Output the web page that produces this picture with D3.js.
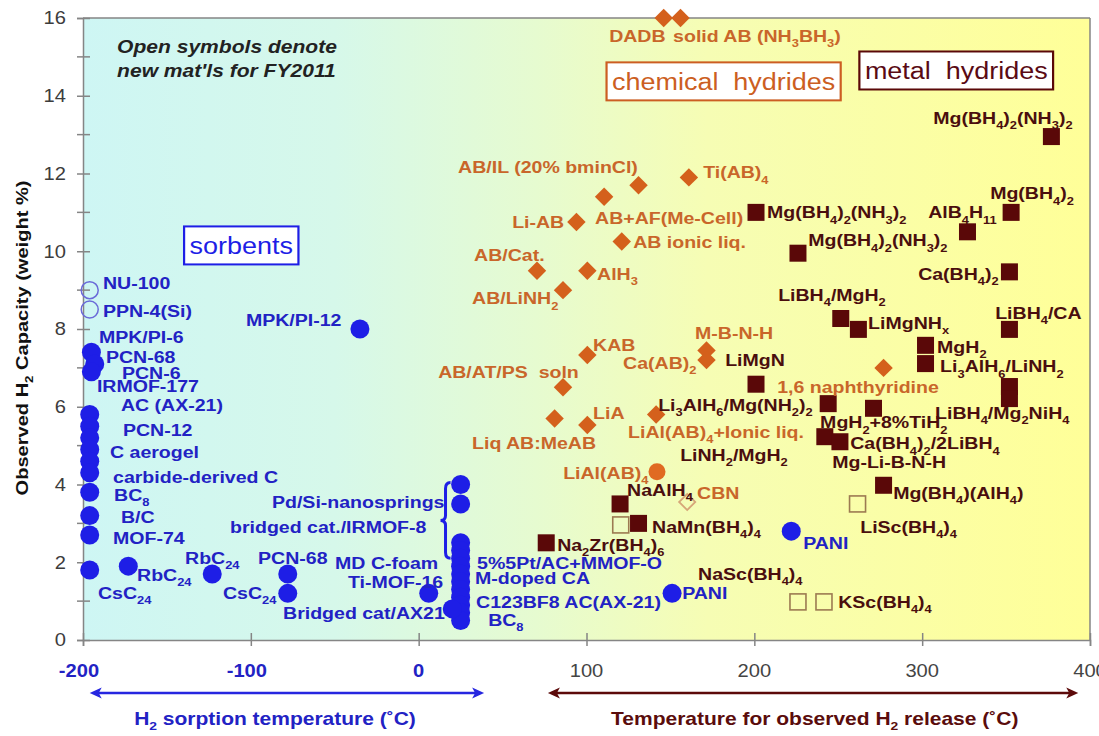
<!DOCTYPE html>
<html>
<head>
<meta charset="utf-8">
<script src="https://cdn.jsdelivr.net/npm/d3@7"></script>
<style>
  html, body { margin: 0; padding: 0; background: #fff; }
  svg { display: block; font-family: "Liberation Sans", Arial, sans-serif; }
</style>
</head>
<body>
<svg id="chart" width="1099" height="736"></svg>
<script>
// ---- Data: temperature (°C) vs. observed H2 capacity (wt %) ----
const xTicks = [-200, -100, 0, 100, 200, 300, 400];
const yTicks = [0, 2, 4, 6, 8, 10, 12, 14, 16];
const yMinorTicks = [1, 3, 5, 7, 9, 11, 13, 15];

// sorbents (filled = earlier materials, open = new for FY2011)
const sorbents = [
  [-195, 7.4], [-193, 7.1], [-195, 6.9], [-196, 5.8], [-196, 5.5], [-196, 5.2],
  [-196, 4.9], [-196, 4.6], [-196, 4.3], [-196, 3.8], [-196, 3.2], [-196, 2.7],
  [-196, 1.8], [-35, 8.0], [-173, 1.9], [-123, 1.7], [-78, 1.7], [-78, 1.2],
  [6, 1.2], [25, 4.0], [25, 3.5], [25, 2.5], [25, 2.3], [25, 2.1], [25, 1.9],
  [25, 1.7], [25, 1.5], [25, 1.3], [25, 1.1], [25, 0.9], [25, 0.7], [25, 0.5],
  [20, 0.8], [151, 1.2], [222, 2.8]
];
const sorbentsNew = [[-196, 9.0], [-196, 8.5]];

// chemical hydrides
const chemHydrides = [
  [146, 16.0], [156, 16.0], [161, 11.9], [131, 11.7], [110.5, 11.4], [94, 10.75],
  [121, 10.25], [70.5, 9.5], [100.5, 9.5], [86, 9.0], [100.5, 7.33], [171.5, 7.45],
  [171.5, 7.2], [86, 6.5], [81, 5.7], [100.5, 5.53], [141.5, 5.8], [277, 7.0]
];
const chemCircle = [[142, 4.33]];
const chemNew = [[160, 3.55]];

// metal hydrides
const metalHydrides = [
  [377, 12.95], [353, 11.0], [327, 10.5], [201, 11.0], [226, 9.95], [352, 9.47],
  [251.5, 8.27], [262, 7.99], [352, 7.99], [302, 7.58], [302, 7.11], [352, 6.52],
  [352, 6.21], [201, 6.58], [244, 6.08], [271, 5.96], [242, 5.23], [251, 5.1],
  [277, 3.98], [120, 3.5], [131, 3.0], [76, 2.5]
];
const metalNew = [[120.4, 2.96], [226, 0.98], [241.5, 0.98], [261.5, 3.5]];

// point labels: [text, x (°C), y (wt %)]  "_n" marks a subscript
const sorbentLabels = [
  ["NU-100", -188.1, 9.18], ["PPN-4(Si)", -188.1, 8.46], ["MPK/PI-6", -190.5, 7.81],
  ["PCN-68", -186.3, 7.28], ["PCN-6", -176.8, 6.86], ["IRMOF-177", -191.7, 6.53],
  ["AC (AX-21)", -177.4, 6.04], ["PCN-12", -176.2, 5.40], ["C aerogel", -183.9, 4.83],
  ["carbide-derived C", -182.1, 4.19], ["BC_8", -181.5, 3.73], ["B/C", -177.4, 3.16],
  ["MOF-74", -182.1, 2.62], ["CsC_24", -191.1, 1.21], ["RbC_24", -167.8, 1.67],
  ["RbC_24", -139.2, 2.11], ["PCN-68", -95.7, 2.11], ["CsC_24", -116.6, 1.21],
  ["MD C-foam", -49.8, 1.98], ["Ti-MOF-16", -42.1, 1.49], ["Bridged cat/AX21", -80.8, 0.69],
  ["Pd/Si-nanosprings", -87.4, 3.55], ["bridged cat./IRMOF-8", -112.4, 2.90],
  ["MPK/PI-12", -102.9, 8.23], ["5%5Pt/AC+MMOF-O", 34.8, 1.98], ["M-doped CA", 33.6, 1.59],
  ["C123BF8 AC(AX-21)", 34.2, 0.98], ["BC_8", 41.4, 0.51], ["PANI", 157.0, 1.21],
  ["PANI", 229.1, 2.49]
];
const chemLabels = [
  ["DADB", 113.5, 15.55], ["solid AB (NH_3BH_3)", 151.6, 15.55],
  ["AB/IL (20% bminCl)", 23.5, 12.16], ["Ti(AB)_4", 169.5, 12.03], ["Li-AB", 55.7, 10.75],
  ["AB+AF(Me-Cell)", 105.1, 10.87], ["AB ionic liq.", 127.8, 10.23], ["AB/Cat.", 33.0, 9.90],
  ["AlH_3", 106.3, 9.43], ["AB/LiNH_2", 31.8, 8.79], ["KAB", 103.9, 7.58],
  ["M-B-N-H", 164.7, 7.89], ["Ca(AB)_2", 121.8, 7.12], ["AB/AT/PS  soln", 11.6, 6.89],
  ["LiA", 103.9, 5.84], ["LiAl(AB)_4+Ionic liq.", 124.8, 5.35], ["Liq AB:MeAB", 31.8, 5.06],
  ["LiAl(AB)_4", 86.1, 4.29], ["CBN", 165.9, 3.78], ["1,6 naphthyridine", 213.6, 6.50]
];
const metalLabels = [
  ["Mg(BH_4)_2(NH_3)_2", 306.6, 13.44], ["Mg(BH_4)_2", 340.5, 11.49], ["AlB_4H_11", 303.6, 11.0],
  ["Mg(BH_4)_2(NH_3)_2", 207.6, 11.0], ["Mg(BH_4)_2(NH_3)_2", 232.1, 10.28],
  ["Ca(BH_4)_2", 297.6, 9.43], ["LiBH_4/MgH_2", 214.2, 8.87], ["LiMgNH_x", 267.8, 8.15],
  ["LiBH_4/CA", 343.5, 8.41], ["MgH_2", 308.9, 7.53], ["Li_3AlH_6/LiNH_2", 310.7, 7.04],
  ["LiMgN", 182.6, 7.20], ["Li_3AlH_6/Mg(NH_2)_2", 142.7, 6.04], ["MgH_2+8%TiH_2", 239.2, 5.60],
  ["LiBH_4/Mg_2NiH_4", 307.7, 5.84], ["LiNH_2/MgH_2", 155.8, 4.76],
  ["Ca(BH_4)_2/2LiBH_4", 257.1, 5.06], ["Mg-Li-B-N-H", 246.4, 4.58],
  ["Mg(BH_4)(AlH_4)", 282.7, 3.78], ["LiSc(BH_4)_4", 263.1, 2.90], ["KSc(BH_4)_4", 250.0, 0.98],
  ["NaSc(BH_4)_4", 166.5, 1.70], ["NaAlH_4", 124.2, 3.86], ["NaMn(BH_4)_4", 139.1, 2.90],
  ["Na_2Zr(BH_4)_6", 82.5, 2.44]
];

// class boxes: [text, centre x, centre y, class]
const classBoxes = [
  ["sorbents", -105.7, 10.15, "sorb"],
  ["chemical  hydrides", 181.7, 14.37, "chem"],
  ["metal  hydrides", 320.3, 14.65, "metal"]
];

// temperature ranges drawn as arrows under the axis: [from, to]
const sorptionRange = [-196, 39];
const releaseRange = [77, 393];
// bracket beside the room-temperature sorbents: [x, yTop, yBottom]
const bracket = [16, 4.05, 2.1];

// ---- Styling ----
const C = {
  sorb: "#1e1ee6", sorbText: "#2222c4", sorbOpen: "#6a6ad8",
  chem: "#d4601c", chemText: "#c9662a", chemOpen: "#d6a678",
  metal: "#5a0808", metalText: "#4a0e0e", metalOpen: "#9c7a52",
  axis: "#858585", tick: "#3c3c3c"
};
const LABEL_SIZE = 17;
const STRETCH = 1.15;   // type is set slightly wide throughout

const svg = d3.select("#chart");
const x = d3.scaleLinear().domain([-200, 400]).range([83, 1090]);
const y = d3.scaleLinear().domain([0, 16]).range([640, 18]);

// horizontally widened text anchored at (px, py)
function wideText(parent, px, py, opts = {}) {
  const s = opts.stretch || STRETCH;
  const rot = opts.rotate ? ` rotate(${opts.rotate})` : "";
  return parent.append("text")
    .attr("transform", `translate(${px},${py})${rot} scale(${s},1)`)
    .attr("text-anchor", opts.anchor || "start")
    .attr("xml:space", "preserve");
}

// text with "_n" subscripts
function richText(g, str, size) {
  const parts = str.split(/(_[0-9]+|_x)/).filter(s => s.length);
  let down = false;
  const off = size * 0.3;
  parts.forEach(p => {
    if (p[0] === "_") {
      g.append("tspan").attr("font-size", size * 0.66).attr("dy", down ? 0 : off).text(p.slice(1));
      down = true;
    } else {
      g.append("tspan").attr("font-size", size).attr("dy", down ? -off : 0).text(p);
      down = false;
    }
  });
}

// background gradient: cool (sorbents) to warm (hydrides)
const defs = svg.append("defs");
const grad = defs.append("linearGradient").attr("id", "bg")
  .attr("x1", "0%").attr("x2", "100%").attr("y1", "0%").attr("y2", "0%");
[["0%", "#cef6f4"], ["25%", "#d6f8ea"], ["45%", "#e6fbd0"], ["62%", "#f6fdb4"], ["100%", "#ffff98"]]
  .forEach(([o, c]) => grad.append("stop").attr("offset", o).attr("stop-color", c));

svg.append("rect")
  .attr("x", x(-200)).attr("y", y(16))
  .attr("width", x(400) - x(-200)).attr("height", y(0) - y(16))
  .attr("fill", "url(#bg)");

// frame
svg.append("line").attr("x1", x(-200)).attr("x2", x(400)).attr("y1", y(16)).attr("y2", y(16))
  .attr("stroke", C.axis).attr("stroke-width", 1.5);
svg.append("line").attr("x1", x(400)).attr("x2", x(400)).attr("y1", y(16)).attr("y2", y(0))
  .attr("stroke", C.axis).attr("stroke-width", 1.5);

// y axis (labels drawn separately, widened)
const yAxis = svg.append("g").attr("transform", `translate(${x(-200)},0)`)
  .call(d3.axisLeft(y).tickValues(yTicks).tickSize(6).tickFormat(""));
yAxis.select(".domain").attr("stroke", C.axis).attr("stroke-width", 1.5);
yAxis.selectAll(".tick line").attr("x1", 7).attr("x2", -6).attr("stroke", C.axis).attr("stroke-width", 1.5);
svg.append("g").selectAll("line").data(yMinorTicks).join("line")
  .attr("x1", x(-200) - 6).attr("x2", x(-200) + 7)
  .attr("y1", d => y(d)).attr("y2", d => y(d))
  .attr("stroke", C.axis).attr("stroke-width", 1.5);
const yLab = svg.append("g").attr("font-size", 17.5).attr("fill", C.tick);
yTicks.forEach(v => wideText(yLab, x(-200) - 17, y(v) + 6.3, { anchor: "end" }).text(v));

// x axis
const xAxis = svg.append("g").attr("transform", `translate(0,${y(0)})`)
  .call(d3.axisBottom(x).tickValues(xTicks).tickSize(6).tickFormat(""));
xAxis.select(".domain").attr("stroke", C.axis).attr("stroke-width", 1.5);
xAxis.selectAll(".tick line").attr("y1", -7).attr("y2", 6).attr("stroke", C.axis).attr("stroke-width", 1.5);
const xLab = svg.append("g").attr("font-size", 17.5);
xTicks.forEach(v => {
  wideText(xLab, x(v) - (v < 0 ? 4 : 0), 677, { anchor: "middle" })
    .attr("font-weight", v <= 0 ? "bold" : "normal")
    .attr("fill", v <= 0 ? C.sorbText : "#444")
    .text(v < 0 ? "-" + Math.abs(v) : v);
});

// y axis title
wideText(svg, 28, (y(0) + y(16)) / 2 + 9, { anchor: "middle", rotate: -90, stretch: 1.18 })
  .attr("font-size", 17).attr("font-weight", "bold").attr("fill", "#111")
  .call(t => richText(t, "Observed H_2 Capacity (weight %)", 17));

// markers
const marks = svg.append("g");
marks.selectAll("circle.sorb").data(sorbents).join("circle")
  .attr("cx", d => x(d[0])).attr("cy", d => y(d[1])).attr("r", 9.5).attr("fill", C.sorb);
marks.selectAll("circle.sorbNew").data(sorbentsNew).join("circle")
  .attr("cx", d => x(d[0])).attr("cy", d => y(d[1])).attr("r", 8.5)
  .attr("fill", "none").attr("stroke", C.sorbOpen).attr("stroke-width", 1.5);

const diamond = d3.symbol().type(d3.symbolSquare).size(170);
marks.selectAll("path.chem").data(chemHydrides).join("path")
  .attr("d", diamond).attr("transform", d => `translate(${x(d[0])},${y(d[1])}) rotate(45)`)
  .attr("fill", C.chem);
marks.selectAll("path.chemNew").data(chemNew).join("path")
  .attr("d", d3.symbol().type(d3.symbolSquare).size(130))
  .attr("transform", d => `translate(${x(d[0])},${y(d[1])}) rotate(45)`)
  .attr("fill", "none").attr("stroke", C.chemOpen).attr("stroke-width", 1.8);
marks.selectAll("circle.chemC").data(chemCircle).join("circle")
  .attr("cx", d => x(d[0])).attr("cy", d => y(d[1])).attr("r", 8.5).attr("fill", "#e06a22");

const SQ = 17;
marks.selectAll("rect.metal").data(metalHydrides).join("rect")
  .attr("x", d => x(d[0]) - SQ / 2).attr("y", d => y(d[1]) - SQ / 2)
  .attr("width", SQ).attr("height", SQ).attr("fill", C.metal);
marks.selectAll("rect.metalNew").data(metalNew).join("rect")
  .attr("x", d => x(d[0]) - 8).attr("y", d => y(d[1]) - 8)
  .attr("width", 16).attr("height", 16)
  .attr("fill", "none").attr("stroke", C.metalOpen).attr("stroke-width", 1.6);

// bracket
(() => {
  const [bx, bt, bb] = bracket;
  const x0 = x(bx), yt = y(bt), yb = y(bb), ym = (yt + yb) / 2;
  const p = `M${x0 + 5},${yt} Q${x0},${yt} ${x0},${yt + 6} L${x0},${ym - 5} Q${x0},${ym} ${x0 - 5},${ym}
             Q${x0},${ym} ${x0},${ym + 5} L${x0},${yb - 6} Q${x0},${yb} ${x0 + 5},${yb}`;
  svg.append("path").attr("d", p).attr("fill", "none").attr("stroke", C.sorb).attr("stroke-width", 3);
})();

// labels
function drawLabels(list, color) {
  const g = svg.append("g").attr("font-weight", "bold").attr("fill", color);
  list.forEach(([t, lx, ly]) => {
    const el = wideText(g, x(lx), y(ly) + LABEL_SIZE * 0.36);
    richText(el, t, LABEL_SIZE);
  });
}
drawLabels(sorbentLabels, C.sorbText);
drawLabels(chemLabels, C.chemText);
drawLabels(metalLabels, C.metalText);

// note
const note = svg.append("g").attr("font-size", 18).attr("font-weight", "bold")
  .attr("font-style", "italic").attr("fill", "#222");
wideText(note, x(-179.7), y(15.1), { stretch: 1.17 }).text("Open symbols denote");
wideText(note, x(-179.7), y(14.48), { stretch: 1.17 }).text("new mat'ls for FY2011");

// class boxes
const boxStyle = {
  sorb: { stroke: C.sorb, fill: C.sorb },
  chem: { stroke: "#cc5e22", fill: "#cc5e22" },
  metal: { stroke: C.metal, fill: "#5a0a14" }
};
classBoxes.forEach(([t, cx, cy, k]) => {
  const g = svg.append("g").attr("transform", `translate(${x(cx)},${y(cy)}) scale(1.1,1)`);
  const r = g.append("rect").attr("fill", "#fff").attr("stroke", boxStyle[k].stroke).attr("stroke-width", 2);
  const tx = g.append("text").attr("x", 0).attr("y", 8.5).attr("text-anchor", "middle")
    .attr("font-size", 24.5).attr("fill", boxStyle[k].fill).attr("xml:space", "preserve").text(t);
  const bb = tx.node().getBBox();
  r.attr("x", bb.x - 5).attr("y", -19).attr("width", bb.width + 10).attr("height", 38);
});

// temperature range arrows
function arrow(range, color, yPos) {
  const x1 = x(range[0]), x2 = x(range[1]);
  const g = svg.append("g").attr("fill", color).attr("stroke", color);
  g.append("line").attr("x1", x1 + 6).attr("x2", x2 - 6).attr("y1", yPos).attr("y2", yPos).attr("stroke-width", 2.5);
  g.append("path").attr("stroke", "none")
    .attr("d", `M${x1},${yPos} L${x1 + 12},${yPos - 5.5} L${x1 + 9},${yPos} L${x1 + 12},${yPos + 5.5} Z`);
  g.append("path").attr("stroke", "none")
    .attr("d", `M${x2},${yPos} L${x2 - 12},${yPos - 5.5} L${x2 - 9},${yPos} L${x2 - 12},${yPos + 5.5} Z`);
}
arrow(sorptionRange, "#2626e0", 693);
arrow(releaseRange, "#5c0a0a", 693);

function axisNote(str, cx, color) {
  const t = wideText(svg, x(cx), 725, { anchor: "middle", stretch: 1.2 })
    .attr("font-size", 17.5).attr("font-weight", "bold").attr("fill", color);
  richText(t, str, 17.5);
}
axisNote("H_2 sorption temperature (˚C)", -85.6, C.sorbText);
axisNote("Temperature for observed H_2 release (˚C)", 236, "#5a0c0c");
</script>
</body>
</html>
